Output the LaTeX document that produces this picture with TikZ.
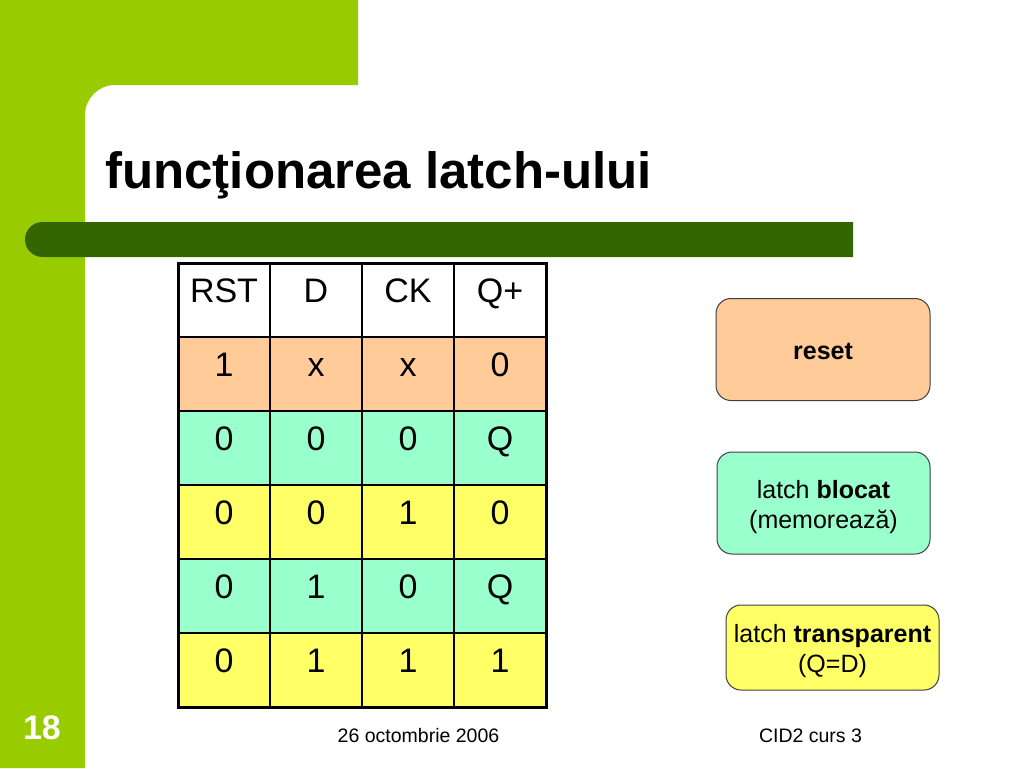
\documentclass[tikz,border=0pt]{standalone}
\usepackage{fontspec}
\setmainfont{Liberation Sans}
\usetikzlibrary{positioning}
\definecolor{slidegreen}{HTML}{99CC00}
\definecolor{bargreen}{HTML}{336600}
\definecolor{resetc}{HTML}{FFCC99}
\definecolor{blockc}{HTML}{99FFCC}
\definecolor{transpc}{HTML}{FFFF66}
\newcommand{\boxlines}[1]{\raisebox{0pt}[\dimexpr\height+8pt\relax][\depth]{\begin{tabular}{@{}c@{}}#1\end{tabular}}}

\begin{document}
\begin{tikzpicture}[x=1pt,y=-1pt,
  cell/.style={anchor=base,inner sep=0pt,font=\fontsize{34}{40}\selectfont},
  statebox/.style={draw=black!75,line width=1pt,rounded corners=15pt,
    inner sep=0pt,font=\fontsize{25}{30}\selectfont},
  foot/.style={inner sep=0pt,font=\fontsize{19.5}{24}\selectfont}]
\useasboundingbox (0,0) rectangle (1024,768);
\fill[white] (0,0) rectangle (1024,768);
\fill[slidegreen] (0,0) -- (358,0) -- (358,85) -- (115,85) arc (270:180:30) -- (85,768) -- (0,768) -- cycle;
\fill[bargreen] (853,222) -- (42.5,222) arc (270:90:17.5) -- (853,257) -- cycle;

\node[anchor=base west,inner sep=0pt,font=\fontsize{51}{61}\bfseries] (title) at (105,188) {funcţionarea latch-ului};

% truth table
\foreach \r/\ytop/\fc/\a/\b/\c/\d in {0/263/white/RST/D/CK/Q+, 1/337/resetc/1/x/x/0,
    2/411/blockc/0/0/0/Q, 3/485/transpc/0/0/1/0, 4/559/blockc/0/1/0/Q, 5/633/transpc/0/1/1/1}
{
  \fill[\fc] (178,\ytop) rectangle +(368,74);
  \node[cell] (rst\r) at (224,\ytop+39) {\a};
  \node[cell] (d\r) at (316,\ytop+39) {\b};
  \node[cell] (ck\r) at (408,\ytop+39) {\c};
  \node[cell] (q\r) at (500,\ytop+39) {\d};
}
\foreach \x in {270,362,454} \draw[line width=1.5pt] (\x,263) -- (\x,707);
\foreach \y in {337,411,485,559,633} \draw[line width=1.5pt] (178,\y) -- (546,\y);
\draw[line width=3pt] (178,263) rectangle (546,707);

\node[statebox,fill=resetc,minimum width=214pt,minimum height=102pt] (reset) at (823,349.5) {\boxlines{\bfseries reset}};
\node[statebox,fill=blockc,minimum width=213pt,minimum height=102pt] (blocat) at (823.5,503) {\boxlines{latch \textbf{blocat}\\(memorează)}};
\node[statebox,fill=transpc,minimum width=213pt,minimum height=85pt] (transp) at (832.5,647.5) {\boxlines{latch \textbf{transparent}\\(Q=D)}};

\node[white,inner sep=0pt,font=\fontsize{34}{40}\bfseries] (slidenum) at (42,728) {18};
\node[foot] (date) at (418.5,736) {26 octombrie 2006};
\node[foot] (course) at (810.5,736) {CID2 curs 3};
\end{tikzpicture}
\end{document}
